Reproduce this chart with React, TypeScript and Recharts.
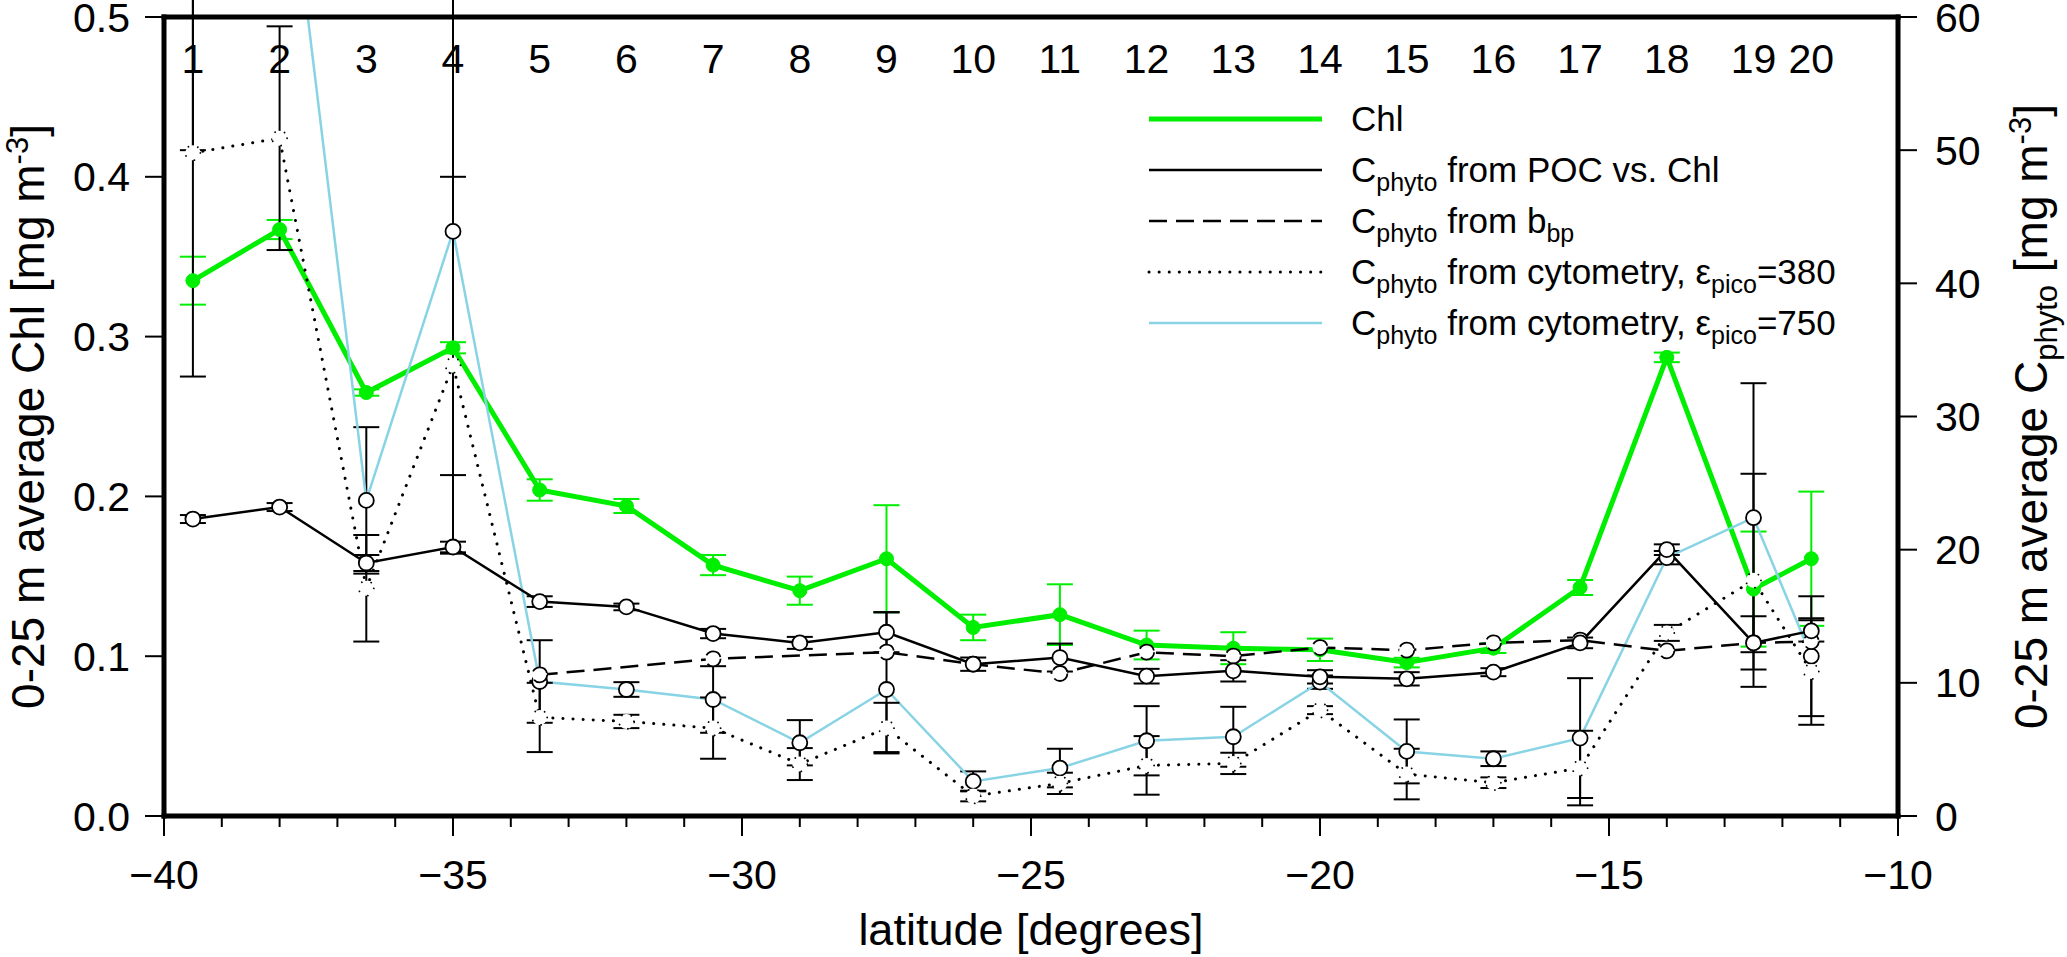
import React from 'react';
import { LineChart, Line, XAxis, YAxis, ErrorBar, Legend, Label } from 'recharts';

const FONT = '"Liberation Sans", Arial, Helvetica, sans-serif';
const GREEN = '#00ee00';
const CYAN = '#88d4e4';
const TICK_FS = 41;
const YTITLE_FS = 46;
const XTITLE_FS = 45;
const LEGEND_FS = 35;

// ---- data ----
const STATION_LABELS = ['1', '2', '3', '4', '5', '6', '7', '8', '9', '10', '11', '12', '13', '14', '15', '16', '17', '18', '19', '20'];
const LATITUDE = [-39.5, -38, -36.5, -35, -33.5, -32, -30.5, -29, -27.5, -26, -24.5, -23, -21.5, -20, -18.5, -17, -15.5, -14, -12.5, -11.5];
const CHL = [0.335, 0.367, 0.265, 0.293, 0.204, 0.194, 0.157, 0.141, 0.161, 0.118, 0.126, 0.107, 0.105, 0.104, 0.096, 0.105, 0.143, 0.287, 0.142, 0.161];
const CHL_ERR = [0.015, 0.006, 0.002, 0.0035, 0.0067, 0.0044, 0.0063, 0.0088, 0.0335, 0.008, 0.019, 0.009, 0.01, 0.007, 0.003, 0.003, 0.0047, 0.003, 0.036, 0.042];
const C_POC = [22.3, 23.2, 19.0, 20.2, 16.1, 15.7, 13.7, 13.0, 13.8, 11.4, 11.9, 10.5, 10.9, 10.45, 10.3, 10.8, 13.0, 20.0, 13.0, 13.9];
const C_POC_ERR = [0.3, 0.3, 0.6, 0.4, 0.4, 0.25, 0.35, 0.45, 1.5, 0.5, 1.05, 0.55, 0.8, 0.5, 0.5, 0.3, 0.4, 0.4, 2.0, 0.8];
const C_BBP = [null, null, null, null, 10.6, null, 11.8, null, 12.3, 11.4, 10.7, 12.3, 12.0, 12.65, 12.45, 13.0, 13.2, 12.4, 13.0, 13.1];
const C_CYTO380 = [49.8, 50.9, 17.1, 33.85, 7.4, 7.1, 6.6, 3.9, 6.6, 1.5, 2.45, 3.8, 3.95, 7.95, 3.15, 2.5, 3.6, 13.75, 17.7, 10.85];
const C_CYTO380_ERR = [16.8, 8.4, 4.0, 14.15, 2.6, 0.5, 2.3, 1.2, 1.9, 0.4, 0.8, 2.2, 0.8, 0.3, 1.9, 0.4, 2.8, 0.6, 8.0, 4.0];
const C_CYTO750 = [70, 77.5, 23.7, 43.9, 10.1, 9.5, 8.75, 5.5, 9.5, 2.6, 3.6, 5.65, 5.95, 10.05, 4.85, 4.3, 5.85, 19.4, 22.4, 12.0];
const C_CYTO750_ERR: (number | number[])[] = [20, 11, 5.5, 18.3, 3.1, 0.55, 2.5, 1.7, [4.7, 5.8], 0.75, 1.45, 2.6, 2.25, 0.5, 2.4, 0.55, 4.5, 0.5, 10.1, 4.5];

const X_TICKS = [-40, -39, -38, -37, -36, -35, -34, -33, -32, -31, -30, -29, -28, -27, -26, -25, -24, -23, -22, -21, -20, -19, -18, -17, -16, -15, -14, -13, -12, -11, -10];
const X_MAJOR_TICKS = [-40, -35, -30, -25, -20, -15, -10];
const CHL_TICKS = [0, 0.1, 0.2, 0.3, 0.4, 0.5];
const CPHYTO_TICKS = [0, 10, 20, 30, 40, 50, 60];

const rows = LATITUDE.map((lat, i) => ({
  lat,
  chl: CHL[i],
  chlErr: CHL_ERR[i],
  poc: C_POC[i],
  pocErr: C_POC_ERR[i],
  bbp: C_BBP[i],
  c380: C_CYTO380[i],
  c380Err: C_CYTO380_ERR[i],
  c750: C_CYTO750[i],
  c750Err: C_CYTO750_ERR[i],
}));

type Part = [string, 'n' | 'sub'];
const LEGEND_ITEMS: { parts: Part[]; stroke: string; width: number; dash?: string; cap?: 'round' | 'butt' }[] = [
  { parts: [['Chl', 'n']], stroke: GREEN, width: 5 },
  { parts: [['C', 'n'], ['phyto', 'sub'], [' from POC vs. Chl', 'n']], stroke: '#000', width: 2.5 },
  { parts: [['C', 'n'], ['phyto', 'sub'], [' from b', 'n'], ['bp', 'sub']], stroke: '#000', width: 2.5, dash: '18 9' },
  { parts: [['C', 'n'], ['phyto', 'sub'], [' from cytometry, ε', 'n'], ['pico', 'sub'], ['=380', 'n']], stroke: '#000', width: 3, dash: '0.1 10', cap: 'round' },
  { parts: [['C', 'n'], ['phyto', 'sub'], [' from cytometry, ε', 'n'], ['pico', 'sub'], ['=750', 'n']], stroke: CYAN, width: 2.5 },
];

const SUB_DY = 9;

function renderParts(parts: Part[]) {
  let prev: 'n' | 'sub' = 'n';
  return parts.map(([t, kind], i) => {
    const dy = (kind === 'sub' ? SUB_DY : 0) - (prev === 'sub' ? SUB_DY : 0);
    prev = kind;
    return (
      <tspan key={i} dy={dy} fontSize={kind === 'sub' ? Math.round(LEGEND_FS * 0.72) : LEGEND_FS}>
        {t}
      </tspan>
    );
  });
}

const LegendContent = () => (
  <svg width={780} height={290} style={{ overflow: 'visible', display: 'block' }}>
    {LEGEND_ITEMS.map((it, i) => {
      const y = 25 + i * 51;
      return (
        <g key={i}>
          <line x1={0} y1={y} x2={173} y2={y} stroke={it.stroke} strokeWidth={it.width} strokeDasharray={it.dash} strokeLinecap={it.cap || 'butt'} />
          <text x={202} y={y + 12} fontFamily={FONT} fontSize={LEGEND_FS} fill="#000">
            {renderParts(it.parts)}
          </text>
        </g>
      );
    })}
  </svg>
);

const BottomTick = (props: any) => {
  const { x, y, payload } = props;
  const major = X_MAJOR_TICKS.includes(payload.value);
  return (
    <g>
      <line x1={x} y1={y} x2={x} y2={y + (major ? 20 : 11)} stroke="#000" strokeWidth={2} />
      {major && (
        <text x={x} y={y + 73} textAnchor="middle" fontFamily={FONT} fontSize={TICK_FS} fill="#000">
          {payload.value < 0 ? `\u2212${Math.abs(payload.value)}` : `${payload.value}`}
        </text>
      )}
    </g>
  );
};

const TopTick = (props: any) => {
  const { x, y, payload, index } = props;
  const idx = typeof index === 'number' ? index : LATITUDE.indexOf(payload.value);
  return (
    <text x={x} y={y + 56} textAnchor="middle" fontFamily={FONT} fontSize={TICK_FS} fill="#000">
      {STATION_LABELS[idx]}
    </text>
  );
};

const LeftTitle = (props: any) => {
  const { x, y, height } = props.viewBox;
  const cx = x + 44;
  const cy = y + height / 2;
  return (
    <text transform={`rotate(-90 ${cx} ${cy})`} x={cx} y={cy} textAnchor="middle" fontFamily={FONT} fontSize={YTITLE_FS} fill="#000">
      <tspan>0-25 m average Chl [mg m</tspan>
      <tspan dy={-16} fontSize={31}>-3</tspan>
      <tspan dy={16}>]</tspan>
    </text>
  );
};

const RightTitle = (props: any) => {
  const { x, y, height } = props.viewBox;
  const cx = x + 149;
  const cy = y + height / 2;
  return (
    <text transform={`rotate(-90 ${cx} ${cy})`} x={cx} y={cy} textAnchor="middle" fontFamily={FONT} fontSize={YTITLE_FS} fill="#000">
      <tspan>0-25 m average C</tspan>
      <tspan dy={10} fontSize={31}>phyto</tspan>
      <tspan dy={-10}> [mg m</tspan>
      <tspan dy={-16} fontSize={31}>-3</tspan>
      <tspan dy={16}>]</tspan>
    </text>
  );
};

const BottomTitle = (props: any) => {
  const { x, y, width } = props.viewBox;
  return (
    <text x={x + width / 2} y={y + 129} textAnchor="middle" fontFamily={FONT} fontSize={XTITLE_FS} fill="#000">
      latitude [degrees]
    </text>
  );
};

const axisLine = { stroke: '#000', strokeWidth: 5, strokeLinecap: 'square' as const };
const tickLine = { stroke: '#000', strokeWidth: 2 };
const tickStyle = { fontSize: TICK_FS, fill: '#000', fontFamily: FONT };
const openDot = { r: 7.5, fill: '#fff', stroke: '#000', strokeWidth: 1.8 };

export default function App() {
  return (
    <div style={{ position: 'fixed', left: 0, top: 0, width: 2067, height: 957, background: '#fff' }}>
      <LineChart width={2067} height={957} data={rows} margin={{ top: 16, right: 0, bottom: 0, left: 0 }}>
        <XAxis
          xAxisId="bottom"
          dataKey="lat"
          type="number"
          domain={[-40, -10]}
          ticks={X_TICKS}
          interval={0}
          allowDataOverflow
          height={141}
          tickSize={0}
          tickMargin={0}
          tickLine={false}
          axisLine={axisLine}
          tick={<BottomTick />}
        >
          <Label content={<BottomTitle />} />
        </XAxis>
        <XAxis
          xAxisId="top"
          orientation="top"
          dataKey="lat"
          type="number"
          domain={[-40, -10]}
          ticks={LATITUDE}
          interval={0}
          allowDataOverflow
          height={1}
          tickSize={0}
          tickMargin={0}
          tickLine={false}
          axisLine={axisLine}
          tick={<TopTick />}
        />
        <YAxis
          yAxisId="left"
          type="number"
          domain={[0, 0.5]}
          ticks={CHL_TICKS}
          interval={0}
          allowDataOverflow
          width={164}
          tickSize={19}
          tickMargin={15}
          tickLine={tickLine}
          axisLine={axisLine}
          tick={tickStyle}
          tickFormatter={(v: number) => v.toFixed(1)}
        >
          <Label content={<LeftTitle />} />
        </YAxis>
        <YAxis
          yAxisId="right"
          orientation="right"
          type="number"
          domain={[0, 60]}
          ticks={CPHYTO_TICKS}
          interval={0}
          allowDataOverflow
          width={169}
          tickSize={19}
          tickMargin={18}
          tickLine={tickLine}
          axisLine={axisLine}
          tick={tickStyle}
        >
          <Label content={<RightTitle />} />
        </YAxis>
        <Legend
          layout="horizontal"
          verticalAlign="middle"
          align="center"
          wrapperStyle={{ position: 'absolute', left: 1149, top: 94, width: 780, height: 290 }}
          content={<LegendContent />}
        />
        <Line
          xAxisId="bottom"
          yAxisId="left"
          dataKey="chl"
          name="Chl"
          stroke={GREEN}
          strokeWidth={5}
          dot={{ r: 7, fill: GREEN, stroke: GREEN, strokeWidth: 1 }}
          activeDot={false}
          isAnimationActive={false}
        >
          <ErrorBar dataKey="chlErr" width={13} stroke={GREEN} strokeWidth={2} direction="y" />
        </Line>
        <Line
          xAxisId="bottom"
          yAxisId="right"
          dataKey="c750"
          name="Cphyto from cytometry, εpico=750"
          stroke={CYAN}
          strokeWidth={2.5}
          dot={openDot}
          activeDot={false}
          isAnimationActive={false}
        >
          <ErrorBar dataKey="c750Err" width={13} stroke="#000" strokeWidth={2} direction="y" />
        </Line>
        <Line
          xAxisId="bottom"
          yAxisId="right"
          dataKey="c380"
          name="Cphyto from cytometry, εpico=380"
          stroke="#000"
          strokeWidth={3}
          strokeDasharray="0.1 10"
          strokeLinecap="round"
          dot={openDot}
          activeDot={false}
          isAnimationActive={false}
        >
          <ErrorBar dataKey="c380Err" width={13} stroke="#000" strokeWidth={2} direction="y" />
        </Line>
        <Line
          xAxisId="bottom"
          yAxisId="right"
          dataKey="bbp"
          name="Cphyto from bbp"
          stroke="#000"
          strokeWidth={2.5}
          strokeDasharray="18 9"
          connectNulls
          dot={openDot}
          activeDot={false}
          isAnimationActive={false}
        />
        <Line
          xAxisId="bottom"
          yAxisId="right"
          dataKey="poc"
          name="Cphyto from POC vs. Chl"
          stroke="#000"
          strokeWidth={2.5}
          dot={openDot}
          activeDot={false}
          isAnimationActive={false}
        >
          <ErrorBar dataKey="pocErr" width={13} stroke="#000" strokeWidth={2} direction="y" />
        </Line>
      </LineChart>
    </div>
  );
}
